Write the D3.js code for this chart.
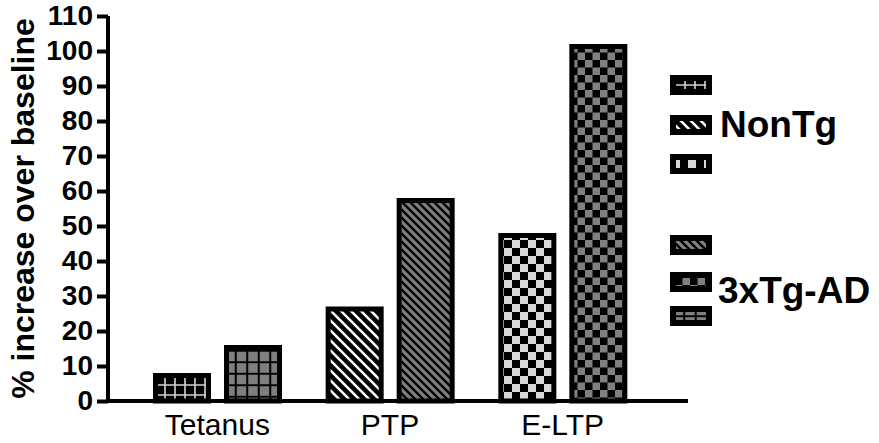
<!DOCTYPE html>
<html>
<head>
<meta charset="utf-8">
<script src="https://cdn.jsdelivr.net/npm/d3@7"></script>
<style>
  html, body { margin: 0; padding: 0; background: #fff; }
  svg { display: block; font-family: "Liberation Sans", Arial, sans-serif; }
</style>
</head>
<body>
<svg id="chart" width="879" height="443"></svg>
<script>
// ---- data ----
const categories = ["Tetanus", "PTP", "E-LTP"];
const groups = ["NonTg", "3xTg-AD"];
const nonTgValues = [8, 27, 48];
const tgValues = [16, 58, 102];
const yTicks = [0, 10, 20, 30, 40, 50, 60, 70, 80, 90, 100, 110];
const yTitle = "% increase over baseline";

const svg = d3.select("#chart");
const defs = svg.append("defs");

// ---- patterns ----
function gridPattern(id, size, bg, fg, sw) {
  const p = defs.append("pattern").attr("id", id).attr("patternUnits", "userSpaceOnUse")
    .attr("width", size).attr("height", size);
  p.append("rect").attr("width", size).attr("height", size).attr("fill", bg);
  p.append("path").attr("d", `M${size/2},0V${size}M0,${size/2}H${size}`)
    .attr("stroke", fg).attr("stroke-width", sw).attr("fill", "none");
}
function diagPattern(id, size, bg, fg, sw) {
  const p = defs.append("pattern").attr("id", id).attr("patternUnits", "userSpaceOnUse")
    .attr("width", size).attr("height", size);
  p.append("rect").attr("width", size).attr("height", size).attr("fill", bg);
  p.append("path").attr("d", `M${-size/2},${size/2}L${size/2},${size*1.5}M0,0L${size},${size}M${size/2},${-size/2}L${size*1.5},${size/2}`)
    .attr("stroke", fg).attr("stroke-width", sw).attr("fill", "none");
}
function checkPattern(id, cell, a, b) {
  const p = defs.append("pattern").attr("id", id).attr("patternUnits", "userSpaceOnUse")
    .attr("width", cell*2).attr("height", cell*2);
  p.append("rect").attr("width", cell*2).attr("height", cell*2).attr("fill", a);
  p.append("rect").attr("width", cell).attr("height", cell).attr("fill", b);
  p.append("rect").attr("x", cell).attr("y", cell).attr("width", cell).attr("height", cell).attr("fill", b);
}
gridPattern("pat0", 10, "#000", "#d4d4d4", 1.6);
diagPattern("pat1", 10, "#000", "#fff", 2.6);
checkPattern("pat2", 8, "#000", "#d8d8d8");
gridPattern("pat3", 11.5, "#7f7f7f", "#000", 2);
diagPattern("pat4", 8, "#7f7f7f", "#000", 2.4);
checkPattern("pat5", 7.5, "#000", "#808080");

const fillFor = (gi, ci) => `url(#pat${gi * 3 + ci})`;

// ---- scales ----
const y = d3.scaleLinear().domain([0, 110]).range([401, 16]);
const x0 = d3.scaleBand().domain(categories).range([131, 649]).padding(0);
const x1 = d3.scaleBand().domain(groups).range([22, 151]).paddingInner(13 / 71).paddingOuter(0);

const SW = 5;

// ---- bars ----
const rows = categories.map((c, ci) => ({ c, ci, vals: [nonTgValues[ci], tgValues[ci]] }));
const g = svg.append("g");
rows.forEach(r => {
  r.vals.forEach((v, gi) => {
    const gx = x0(r.c) + x1(groups[gi]);
    g.append("rect")
      .attr("x", gx + SW / 2)
      .attr("y", y(v) + SW / 2)
      .attr("width", x1.bandwidth() - SW)
      .attr("height", y(0) - y(v) - SW / 2)
      .attr("fill", fillFor(gi, r.ci))
      .attr("stroke", "#000")
      .attr("stroke-width", SW);
  });
});

// ---- y axis ----
const yAxis = svg.append("g").attr("transform", "translate(108,0)")
  .call(d3.axisLeft(y).tickValues(yTicks).tickSize(11).tickPadding(4).tickFormat(d3.format("d")));
yAxis.select(".domain").attr("stroke-width", 4).attr("d", `M0,${y(110)}V${y(0) + 2}`);
yAxis.selectAll(".tick line").attr("stroke-width", 4);
yAxis.selectAll(".tick text").attr("font-size", 28).attr("font-weight", "bold")
  .attr("font-family", "Liberation Sans, Arial, sans-serif").attr("fill", "#000");

// ---- x axis ----
const xAxis = svg.append("g").attr("transform", `translate(0,${y(0)})`)
  .call(d3.axisBottom(x0).tickSize(0).tickPadding(13));
xAxis.select(".domain").attr("stroke-width", 4).attr("d", `M106,0H688`);
xAxis.selectAll(".tick text").attr("font-size", 30).attr("font-weight", "normal")
  .attr("font-family", "Liberation Sans, Arial, sans-serif").attr("fill", "#000");

// ---- y title ----
svg.append("text")
  .attr("transform", `translate(34,${(y(0) + y(110)) / 2}) rotate(-90)`)
  .attr("text-anchor", "middle")
  .attr("font-size", 32).attr("font-weight", "bold")
  .text(yTitle);

// ---- legend ----
const legendBoxes = [
  { gi: 0, ci: 0, y: 75 }, { gi: 0, ci: 1, y: 115 }, { gi: 0, ci: 2, y: 154 },
  { gi: 1, ci: 1, y: 235 }, { gi: 1, ci: 2, y: 272 }, { gi: 1, ci: 0, y: 306 }
];
const lg = svg.append("g");
legendBoxes.forEach(b => {
  lg.append("rect")
    .attr("x", 670 + 3).attr("y", b.y + 3)
    .attr("width", 42 - 6).attr("height", 20 - 6)
    .attr("fill", fillFor(b.gi, b.ci))
    .attr("stroke", "#000").attr("stroke-width", 6);
});
lg.append("text").attr("x", 720).attr("y", 137).attr("font-size", 37).attr("font-weight", "bold").text(groups[0]);
lg.append("text").attr("x", 718).attr("y", 303).attr("font-size", 37).attr("font-weight", "bold").text(groups[1]);
</script>
</body>
</html>
